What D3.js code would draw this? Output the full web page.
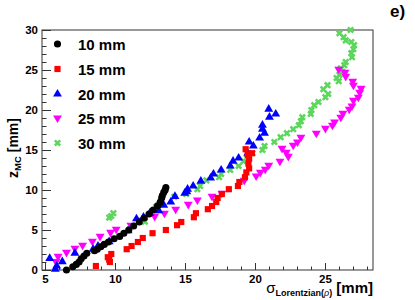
<!DOCTYPE html>
<html lang="en">
<head>
    <meta charset="UTF-8">
    <title>z_MC vs sigma Lorentzian</title>
    <script src="https://d3js.org/d3.v7.min.js"></script>
    <style>
        body {
            margin: 0;
            padding: 0;
            background: #fff;
            font-family: "Liberation Sans", Arial, sans-serif;
        }
        text {
            font-weight: bold;
            fill: #000;
        }
    </style>
</head>
<body>
    <svg id="chart" width="415" height="300"></svg>

    <script>
        // Data: [sigma Lorentzian (mm), z MC (mm)]
        const series10 = [[6.5,0.0],[6.95,0.4],[7.2,0.7],[7.4,1.0],[7.55,1.4],[7.75,1.75],[7.95,2.1],[8.5,2.4],[8.7,2.6],
            [8.95,2.9],[9.2,3.2],[9.5,3.5],[9.9,3.9],[10.3,4.2],[10.6,4.6],[10.95,5.0],[11.3,5.5],[11.7,6.0],[12.05,6.5],
            [12.4,7.0],[12.7,7.5],[13.0,8.0],[13.2,8.5],[13.3,9.0],[13.35,9.3],[13.45,9.7],[13.55,10.0],[13.6,10.3]];

        const series15 = [[8.6,0.5],[9.45,1.6],[9.6,1.0],[9.55,1.3],[9.7,2.0],[10.8,2.6],[11.15,3.0],[11.6,3.5],[11.95,4.0],
            [12.65,4.6],[13.6,5.0],[14.4,5.6],[14.7,6.0],[15.6,6.6],[15.75,7.1],[16.6,7.6],[16.9,8.0],[17.2,8.5],[17.3,9.0],
            [17.6,9.5],[18.1,10.1],[18.75,10.5],[18.85,11.0],[19.25,11.6],[19.35,12.2],[19.55,12.7],[19.5,13.3],[19.55,13.9],
            [19.45,14.4],[19.75,14.6],[19.3,15.1]];

        const series20 = [[5.3,1.45],[5.7,0.1],[5.8,0.5],[6.2,1.05],[7.1,2.1],[8.4,2.6],[8.75,3.0],[9.55,3.55],[10.9,4.9],
            [11.5,6.4],[12.0,6.6],[12.45,7.1],[13.1,7.4],[13.45,8.1],[13.95,8.5],[14.25,9.2],[14.95,9.6],[15.1,9.8],[15.15,10.1],
            [15.55,10.5],[16.1,11.1],[16.8,11.5],[17.0,12.0],[17.55,12.5],[18.2,13.0],[18.4,13.6],[18.8,14.0],[19.45,14.6],
            [19.85,15.5],[19.55,16.0],[20.3,16.5],[20.65,17.1],[20.5,17.6],[20.5,18.1],[21.0,19.1],[20.95,20.1],[21.45,19.5]];

        const series25 = [[5.75,1.05],[5.9,1.7],[6.5,2.2],[7.1,2.7],[7.65,3.1],[8.35,3.6],[8.9,4.2],[9.65,4.7],[10.05,5.1],
            [11.1,5.6],[11.7,6.2],[12.8,6.7],[13.5,7.1],[14.3,7.6],[15.2,8.2],[15.85,8.75],[16.9,9.2],[17.6,9.6],[19.2,11.2],
            [20.05,11.75],[20.35,12.2],[20.7,12.6],[20.95,13.1],[21.75,13.6],[22.35,14.2],[22.2,14.7],[21.9,15.2],[22.7,15.6],
            [23.0,16.0],[23.25,16.6],[24.35,17.1],[25.0,17.7],[25.5,18.1],[25.65,18.5],[26.1,19.1],[26.25,19.6],[26.7,20.1],
            [26.9,20.5],[27.0,21.2],[27.35,21.6],[27.45,22.2],[27.55,22.7],[27.0,23.1],[26.95,23.6],[26.45,24.2],[26.4,24.7],
            [25.95,25.1]];

        const series30 = [[9.55,6.55],[9.7,6.75],[9.85,7.1],[12.1,6.05],[12.9,7.9],[13.05,8.1],[14.2,9.15],[15.05,9.5],
            [15.85,10.1],[16.05,10.5],[16.5,11.2],[17.4,11.6],[17.55,12.0],[18.2,12.5],[18.8,13.0],[19.15,13.6],[19.4,14.0],
            [19.8,14.6],[20.5,15.0],[20.65,15.5],[21.35,16.0],[21.8,16.6],[22.25,17.1],[22.7,17.6],[23.1,18.1],[23.25,18.6],
            [23.35,19.1],[23.95,19.5],[24.0,20.0],[24.2,20.6],[24.5,21.0],[25.0,21.6],[25.2,22.0],[24.85,22.6],[25.15,23.1],
            [25.95,23.6],[25.8,24.0],[26.0,24.4],[26.2,24.8],[26.1,25.2],[26.35,25.6],[26.45,26.0],[26.9,26.6],[26.85,27.1],
            [27.0,27.6],[27.05,28.1],[26.85,28.5],[26.45,28.7],[26.3,29.1],[26.0,29.6],[26.8,30.0]];

        const seriesNames = ["10 mm", "15 mm", "20 mm", "25 mm", "30 mm"];
        const xTicks = [5, 10, 15, 20, 25];
        const yTicks = [0, 5, 10, 15, 20, 25, 30];

        const allSeries = [series10, series15, series20, series25, series30];
        const colors = ["#000000", "#ff0000", "#0000ff", "#ff00ff", "#5cd65c"];

        // marker shapes, one per series
        const markers = [
            { type: d3.symbolCircle, size: 40, rot: 0 },
            { type: d3.symbolSquare, size: 38, rot: 0 },
            { type: d3.symbolTriangle, size: 34, rot: 0 },
            { type: d3.symbolTriangle, size: 34, rot: 180 },
            { type: d3.symbolCross, size: 32, rot: 45 }
        ];

        const frame = { left: 42, right: 373, top: 30, bottom: 270 };

        const svg = d3.select("#chart");

        const x = d3.scaleLinear().domain([4.75, 28.4]).range([frame.left, frame.right]);
        const y = d3.scaleLinear().domain([0, 30]).range([frame.bottom, frame.top]);

        // Frame
        svg.append("rect")
            .attr("x", frame.left)
            .attr("y", frame.top)
            .attr("width", frame.right - frame.left)
            .attr("height", frame.bottom - frame.top)
            .attr("fill", "none")
            .attr("stroke", "#333")
            .attr("stroke-width", 1);

        // Inward ticks (ROOT style): major every 5, minor every 1
        const xMinor = d3.range(5, 29, 1).filter(d => x(d) <= frame.right);
        svg.append("g").selectAll("line")
            .data(xMinor)
            .enter().append("line")
            .attr("x1", d => Math.round(x(d)) + 0.5)
            .attr("x2", d => Math.round(x(d)) + 0.5)
            .attr("y1", frame.bottom)
            .attr("y2", d => frame.bottom - (d % 5 === 0 ? 7 : 3.5))
            .attr("stroke", "#333");

        const yMinor = d3.range(0, 31, 1);
        svg.append("g").selectAll("line")
            .data(yMinor)
            .enter().append("line")
            .attr("y1", d => Math.round(y(d)) + 0.5)
            .attr("y2", d => Math.round(y(d)) + 0.5)
            .attr("x1", frame.left)
            .attr("x2", d => frame.left + (d % 5 === 0 ? 9 : 4.5))
            .attr("stroke", "#333");

        // Tick labels
        svg.append("g").selectAll("text")
            .data(xTicks)
            .enter().append("text")
            .attr("x", d => x(d))
            .attr("y", 283)
            .attr("text-anchor", "middle")
            .style("font-size", "11.5px")
            .text(d => d);

        svg.append("g").selectAll("text")
            .data(yTicks)
            .enter().append("text")
            .attr("x", 38)
            .attr("y", d => y(d) + 4)
            .attr("text-anchor", "end")
            .style("font-size", "11.5px")
            .text(d => d);

        // Axis titles
        const xt = svg.append("text")
            .attr("x", 373)
            .attr("y", 293)
            .attr("text-anchor", "end")
            .style("font-size", "15px");
        xt.append("tspan").style("font-weight", "normal").text("σ");
        xt.append("tspan").attr("dy", 3).style("font-size", "9px").text("Lorentzian(");
        xt.append("tspan").style("font-size", "9px").style("font-weight", "normal").style("font-style", "italic").text("ρ");
        xt.append("tspan").style("font-size", "9px").text(")");
        xt.append("tspan").attr("dy", -3).text(" [mm]");

        const yt = svg.append("text")
            .attr("transform", "translate(18,118) rotate(-90)")
            .attr("text-anchor", "end")
            .style("font-size", "14px");
        yt.append("tspan").text("z");
        yt.append("tspan").attr("dy", 3).style("font-size", "9.5px").text("MC");
        yt.append("tspan").attr("dy", -3).text(" [mm]");

        // Pad label
        svg.append("text")
            .attr("x", 390)
            .attr("y", 17)
            .style("font-size", "17px")
            .text("e)");

        // Points, drawn last series first so 10 mm sits on top
        const symbol = d3.symbol();
        for (let i = allSeries.length - 1; i >= 0; i--) {
            const m = markers[i];
            svg.append("g")
                .selectAll("path")
                .data(allSeries[i])
                .enter().append("path")
                .attr("d", symbol.type(m.type).size(m.size)())
                .attr("transform", d => `translate(${x(d[0])},${y(d[1])}) rotate(${m.rot})`)
                .attr("fill", colors[i]);
        }

        // Legend
        const legendY = [44, 69, 94, 118, 143];
        seriesNames.forEach((name, i) => {
            const m = markers[i];
            svg.append("path")
                .attr("d", d3.symbol().type(m.type).size(m.size)())
                .attr("transform", `translate(57.5,${legendY[i]}) rotate(${m.rot})`)
                .attr("fill", colors[i]);
            svg.append("text")
                .attr("x", 78)
                .attr("y", legendY[i] + 5.5)
                .style("font-size", "15px")
                .text(name);
        });
    </script>
</body>
</html>
